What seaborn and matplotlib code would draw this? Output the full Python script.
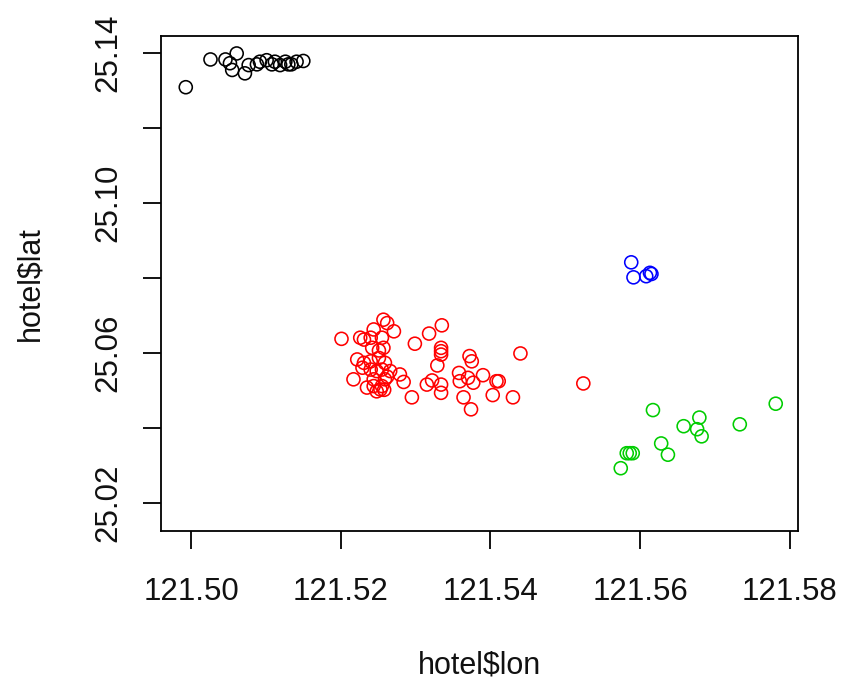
import matplotlib
matplotlib.use('Agg')
import matplotlib.pyplot as plt
import pandas as pd
import seaborn as sns

# hotel coordinates, split by cluster
black_lon = [121.4993, 121.5026, 121.5046, 121.5061, 121.5052, 121.5055, 121.5072,
             121.5077, 121.5088, 121.5092, 121.5101, 121.5108, 121.5112, 121.5119,
             121.5126, 121.5130, 121.5134, 121.5141, 121.5150]
black_lat = [25.1308, 25.1382, 25.1382, 25.1398, 25.1372, 25.1354, 25.1345,
             25.1367, 25.1369, 25.1376, 25.1380, 25.1369, 25.1376, 25.1367,
             25.1376, 25.1369, 25.1369, 25.1376, 25.1378]

red_lon = [121.5201, 121.5257, 121.5262, 121.5244, 121.5271, 121.5226, 121.5231,
           121.5240, 121.5255, 121.5257, 121.5242, 121.5299, 121.5222, 121.5231,
           121.5240, 121.5251, 121.5259, 121.5266, 121.5229, 121.5240, 121.5248,
           121.5255, 121.5217, 121.5235, 121.5244, 121.5248, 121.5253, 121.5255,
           121.5259, 121.5244, 121.5279, 121.5284, 121.5295, 121.5335, 121.5318,
           121.5334, 121.5334, 121.5334, 121.5329, 121.5372, 121.5375, 121.5315,
           121.5322, 121.5334, 121.5334, 121.5358, 121.5359, 121.5370, 121.5377,
           121.5390, 121.5408, 121.5411, 121.5364, 121.5374, 121.5403, 121.5430,
           121.5440, 121.5524, 121.5251, 121.5262, 121.5258]
red_lat = [25.0637, 25.0688, 25.0679, 25.0662, 25.0657, 25.0640, 25.0635,
           25.0640, 25.0640, 25.0613, 25.0613, 25.0624, 25.0582, 25.0573,
           25.0577, 25.0586, 25.0573, 25.0551, 25.0560, 25.0555, 25.0551,
           25.0555, 25.0529, 25.0507, 25.0511, 25.0497, 25.0502, 25.0511,
           25.0529, 25.0529, 25.0542, 25.0522, 25.0481, 25.0673, 25.0651,
           25.0613, 25.0604, 25.0595, 25.0566, 25.0591, 25.0577, 25.0515,
           25.0526, 25.0515, 25.0493, 25.0546, 25.0524, 25.0533, 25.0520,
           25.0540, 25.0524, 25.0524, 25.0481, 25.0449, 25.0487, 25.0481,
           25.0598, 25.0518, 25.0606, 25.0536, 25.0501]

green_lon = [121.5617, 121.5574, 121.5582, 121.5586, 121.5590, 121.5628, 121.5637,
             121.5658, 121.5679, 121.5676, 121.5682, 121.5733, 121.5781]
green_lat = [25.0447, 25.0292, 25.0332, 25.0332, 25.0332, 25.0358, 25.0328,
             25.0404, 25.0427, 25.0396, 25.0377, 25.0409, 25.0464]

blue_lon = [121.5588, 121.5591, 121.5608, 121.5613, 121.5615]
blue_lat = [25.0841, 25.0801, 25.0804, 25.0813, 25.0810]

x_ticks = [121.50, 121.52, 121.54, 121.56, 121.58]
x_labels = ['121.50', '121.52', '121.54', '121.56', '121.58']
y_ticks = [25.02, 25.04, 25.06, 25.08, 25.10, 25.12, 25.14]
y_labels = ['25.02', '', '25.06', '', '25.10', '', '25.14']

# R default palette: 1 black, 2 red, 3 green3, 4 blue
cluster_colors = {1: '#000000', 2: '#FF0000', 3: '#00CD00', 4: '#0000FF'}

hotel = pd.DataFrame({
    'lon': black_lon + red_lon + green_lon + blue_lon,
    'lat': black_lat + red_lat + green_lat + blue_lat,
    'cluster': [1] * len(black_lon) + [2] * len(red_lon) + [3] * len(green_lon) + [4] * len(blue_lon),
})

sns.set_theme(style='white')
plt.rcParams['font.family'] = ['Liberation Sans', 'DejaVu Sans']

fig = plt.figure(figsize=(8.44, 6.85), dpi=100)
ax = fig.add_axes([0.1904, 0.2248, 0.7547, 0.7226])

sns.scatterplot(data=hotel, x='lon', y='lat', hue='cluster', palette=cluster_colors,
                s=88, linewidth=1.15, legend=False, ax=ax)
# hollow circles like R's pch = 1
pts = ax.collections[0]
pts.set_edgecolors(pts.get_facecolors())
pts.set_facecolors('none')

ax.set_xlim(121.49595, 121.58103)
ax.set_ylim(25.01245, 25.14445)
ax.set_xticks(x_ticks)
ax.set_xticklabels(x_labels)
ax.set_yticks(y_ticks)
ax.set_yticklabels(y_labels, rotation=90, va='center')

for sp in ax.spines.values():
    sp.set_visible(True)
    sp.set_color('black')
    sp.set_linewidth(1.3)

ax.tick_params(axis='both', direction='out', length=13, width=1.3, color='black',
               labelsize=22.5, labelcolor='#111111', bottom=True, left=True)
ax.tick_params(axis='x', pad=20)
ax.tick_params(axis='y', pad=14)

ax.set_xlabel('hotel$lon', fontsize=22, color='#111111')
ax.set_ylabel('hotel$lat', fontsize=22, color='#111111')
ax.xaxis.label.set_va('center')
ax.yaxis.label.set_va('center')
ax.xaxis.set_label_coords(0.5, -0.2707)
ax.yaxis.set_label_coords(-0.2052, 0.5)

fig.savefig('out.png', dpi=100)
